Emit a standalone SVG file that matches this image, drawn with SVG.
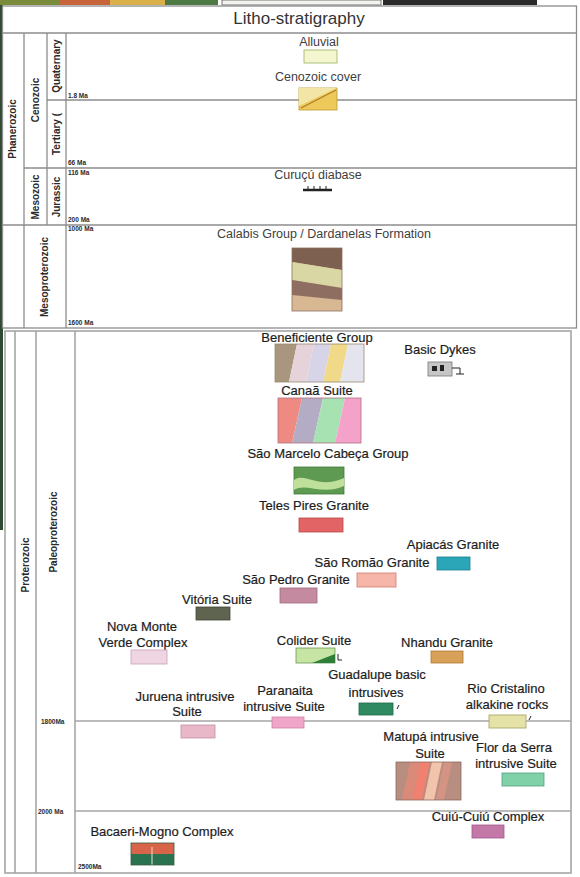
<svg xmlns="http://www.w3.org/2000/svg" width="580" height="877" viewBox="0 0 580 877">
  <defs>
    <style>
      .lbl { font-family: "Liberation Sans", Arial, sans-serif; font-size: 13px; fill: #1c1c1c; text-anchor: middle; stroke: #1c1c1c; stroke-width: 0.2; }
      .top { font-size: 12.5px; fill: #404040; stroke: none; }
      .title { font-family: "Liberation Sans", Arial, sans-serif; font-size: 17px; fill: #333; text-anchor: middle; }
      .era { font-family: "Liberation Sans", Arial, sans-serif; font-size: 10px; font-weight: bold; fill: #2a2a2a; text-anchor: middle; }
      .tick { font-family: "Liberation Sans", Arial, sans-serif; font-size: 6.5px; font-weight: bold; fill: #2a2a2a; }
      .grid { stroke: #8c8c8c; stroke-width: 1.3; fill: none; }
      .grid2 { stroke: #a6a6a6; stroke-width: 1.6; fill: none; }
      .unit { stroke-width: 0.8; }
      .mark { stroke: #222; stroke-width: 1; fill: none; }
    </style>
  </defs>

  <rect width="580" height="877" fill="#ffffff"/>

  <!-- strip of the neighbouring panel along the top edge -->
  <g id="top-strip">
    <rect x="0" y="0" width="60" height="5" fill="#7a8c3c"/>
    <rect x="60" y="0" width="50" height="5" fill="#c8643c"/>
    <rect x="110" y="0" width="55" height="5" fill="#d9b04a"/>
    <rect x="165" y="0" width="53" height="5" fill="#4d7a44"/>
    <rect x="222" y="0" width="159" height="5" fill="#f4f3ef" stroke="#555" stroke-width="0.8"/>
    <rect x="383" y="0" width="154" height="5" fill="#2a2a2a"/>
    <rect x="0" y="5" width="3" height="525" fill="#2f4a30"/>
  </g>

  <!-- upper panel: Phanerozoic and Mesoproterozoic -->
  <g id="upper-frame">
    <rect x="2.5" y="6" width="574" height="322" class="grid"/>
    <line x1="2.5" y1="33" x2="576.5" y2="33" class="grid"/>
    <line x1="24" y1="33" x2="24" y2="328" class="grid"/>
    <line x1="47" y1="33" x2="47" y2="225" class="grid"/>
    <line x1="66" y1="33" x2="66" y2="328" class="grid"/>
    <line x1="47" y1="100" x2="576.5" y2="100" class="grid"/>
    <line x1="24" y1="168" x2="576.5" y2="168" class="grid"/>
    <line x1="2.5" y1="225" x2="576.5" y2="225" class="grid"/>
    <text x="299" y="24" class="title">Litho-stratigraphy</text>

    <text class="era" transform="translate(16,129) rotate(-90)">Phanerozoic</text>
    <text class="era" transform="translate(39,100) rotate(-90)">Cenozoic</text>
    <text class="era" transform="translate(60,66) rotate(-90)">Quaternary</text>
    <text class="era" transform="translate(60,134) rotate(-90)">Tertiary (</text>
    <text class="era" transform="translate(39,197) rotate(-90)">Mesozoic</text>
    <text class="era" transform="translate(60,197) rotate(-90)">Jurassic</text>
    <text class="era" transform="translate(48,277) rotate(-90)">Mesoproterozoic</text>

    <text x="68" y="98" class="tick">1.8 Ma</text>
    <text x="68" y="165" class="tick">66 Ma</text>
    <text x="68" y="175" class="tick">116 Ma</text>
    <text x="68" y="222" class="tick">200 Ma</text>
    <text x="68" y="231" class="tick">1000 Ma</text>
    <text x="68" y="325" class="tick">1600 Ma</text>
  </g>

  <!-- lower panel: Proterozoic -->
  <g id="lower-frame">
    <rect x="5" y="331" width="566" height="542" class="grid2"/>
    <line x1="15" y1="331" x2="15" y2="873" class="grid2"/>
    <line x1="36" y1="331" x2="36" y2="873" class="grid2"/>
    <line x1="75" y1="331" x2="75" y2="873" class="grid2"/>
    <line x1="75" y1="721" x2="571" y2="721" class="grid2"/>
    <line x1="75" y1="811" x2="571" y2="811" class="grid2"/>
    <text class="era" transform="translate(29,565) rotate(-90)">Proterozoic</text>
    <text class="era" transform="translate(57,532) rotate(-90)">Paleoproterozoic</text>
    <text x="41" y="724" class="tick">1800Ma</text>
    <text x="38" y="814" class="tick">2000 Ma</text>
    <text x="78" y="869" class="tick">2500Ma</text>
  </g>

  <g id="connectors"/>

  <g id="alluvial">
    <text x="319" y="46" class="lbl top">Alluvial</text>
    <rect x="304" y="50" width="33" height="13" fill="#f3f6cf" stroke="#9cb25c" class="unit"/>
  </g>

  <g id="cenozoic-cover">
    <text x="318" y="81" class="lbl top">Cenozoic cover</text>
    <rect x="299" y="88" width="38" height="22" fill="#ecc95a" stroke="#c09a30" class="unit"/>
    <polygon points="299,88 337,88 299,106" fill="#f3e5a6"/>
    <line x1="301" y1="108" x2="336" y2="90" stroke="#b27a28" stroke-width="1.2"/>
  </g>

  <g id="curucu-diabase">
    <text x="318" y="179" class="lbl top">Curuçú diabase</text>
    <line x1="303" y1="190" x2="332" y2="190" stroke="#222" stroke-width="2.5"/>
    <path d="M308 186v4M314 186v4M320 186v4M326 186v4" class="mark"/>
  </g>

  <g id="calabis">
    <text x="324" y="238" class="lbl top">Calabis Group / Dardanelas Formation</text>
    <rect x="292" y="248" width="50" height="63" fill="#d8b793"/>
    <polygon points="292,248 342,248 342,270 292,262" fill="#7d6050"/>
    <polygon points="292,262 342,270 342,288 292,280" fill="#d9d7a3"/>
    <polygon points="292,280 342,288 342,300 292,295" fill="#8d6e60"/>
    <rect x="292" y="248" width="50" height="63" fill="none" stroke="#8a7060" class="unit"/>
  </g>

  <g id="beneficiente">
    <text x="317" y="342" class="lbl">Beneficiente Group</text>
    <polygon points="275,344 297,344 289,382 275,382" fill="#a8967e"/>
    <polygon points="297,344 314,344 306,382 289,382" fill="#e6d3d9"/>
    <polygon points="314,344 331,344 323,382 306,382" fill="#d8d4e8"/>
    <polygon points="331,344 348,344 340,382 323,382" fill="#f1d98a"/>
    <polygon points="348,344 364,344 364,382 340,382" fill="#e4e4ee"/>
    <rect x="275" y="344" width="89" height="38" fill="none" stroke="#9a8a70" class="unit"/>
  </g>

  <g id="basic-dykes">
    <text x="440" y="354" class="lbl">Basic Dykes</text>
    <rect x="428" y="362" width="24" height="14" fill="#c6c6c6" stroke="#777" class="unit"/>
    <rect x="432" y="366" width="5" height="5" fill="#222"/>
    <rect x="440" y="365" width="4" height="6" fill="#222"/>
    <path d="M452 368h8v6M456 374h8" class="mark"/>
  </g>

  <g id="canaa">
    <text x="317" y="395" class="lbl">Canaã Suite</text>
    <polygon points="278,398 302,398 292,443 278,443" fill="#ee8a82"/>
    <polygon points="302,398 323,398 313,443 292,443" fill="#b4acc4"/>
    <polygon points="323,398 345,398 335,443 313,443" fill="#a6e2b2"/>
    <polygon points="345,398 361,398 361,443 335,443" fill="#f4a2ca"/>
    <rect x="278" y="398" width="83" height="45" fill="none" stroke="#b07080" class="unit"/>
  </g>

  <g id="sao-marcelo">
    <text x="328" y="458" class="lbl">São Marcelo Cabeça Group</text>
    <rect x="294" y="467" width="50" height="27" fill="#5f9a52" stroke="#3f7a38" class="unit"/>
    <path d="M294 480 C306 472 318 490 344 478 L344 486 C322 496 306 482 294 490 Z" fill="#bfe09a"/>
  </g>

  <g id="teles-pires">
    <text x="314" y="510" class="lbl">Teles Pires Granite</text>
    <rect x="299" y="518" width="44" height="14" fill="#e26464" stroke="#b84848" class="unit"/>
  </g>

  <g id="apiacas">
    <text x="453" y="549" class="lbl">Apiacás Granite</text>
    <rect x="437" y="557" width="33" height="13" fill="#2aa6b8" stroke="#1a8090" class="unit"/>
  </g>

  <g id="sao-romao">
    <text x="372" y="567" class="lbl">São Romão Granite</text>
    <rect x="357" y="573" width="39" height="14" fill="#f6b6aa" stroke="#cf7c72" class="unit"/>
  </g>

  <g id="sao-pedro">
    <text x="296" y="584" class="lbl">São Pedro Granite</text>
    <rect x="280" y="588" width="37" height="15" fill="#c48aa0" stroke="#a06880" class="unit"/>
  </g>

  <g id="vitoria">
    <text x="217" y="604" class="lbl">Vitória Suite</text>
    <rect x="196" y="607" width="34" height="13" fill="#5f6450" stroke="#404535" class="unit"/>
  </g>

  <g id="nova-monte-verde">
    <text x="142" y="631" class="lbl">Nova Monte</text>
    <text x="143" y="647" class="lbl">Verde Complex</text>
    <rect x="131" y="650" width="36" height="14" fill="#efd4e2" stroke="#c8a0b8" class="unit"/>
  </g>

  <g id="colider">
    <text x="314" y="645" class="lbl">Colider Suite</text>
    <rect x="296" y="648" width="39" height="15" fill="#c6e4a4" stroke="#6a9a50" class="unit"/>
    <polygon points="312,663 335,654 335,663" fill="#2f7f3a"/>
    <path d="M338 654v6h4" class="mark"/>
  </g>

  <g id="nhandu">
    <text x="447" y="647" class="lbl">Nhandu Granite</text>
    <rect x="431" y="651" width="32" height="12" fill="#d9a05a" stroke="#b07830" class="unit"/>
  </g>

  <g id="guadalupe">
    <text x="377" y="679" class="lbl">Guadalupe basic</text>
    <text x="376" y="697" class="lbl">intrusives</text>
    <rect x="359" y="703" width="34" height="12" fill="#2f8a62" stroke="#1e6a48" class="unit"/>
    <path d="M397 709l2-4" class="mark"/>
  </g>

  <g id="paranaita">
    <text x="285" y="695" class="lbl">Paranaita</text>
    <text x="284" y="711" class="lbl">intrusive Suite</text>
    <rect x="272" y="717" width="32" height="11" fill="#f0a6c8" stroke="#d080a0" class="unit"/>
  </g>

  <g id="juruena">
    <text x="185" y="701" class="lbl">Juruena intrusive</text>
    <text x="187" y="716" class="lbl">Suite</text>
    <rect x="181" y="725" width="34" height="13" fill="#e8b8c8" stroke="#c090a8" class="unit"/>
  </g>

  <g id="rio-cristalino">
    <text x="506" y="693" class="lbl">Rio Cristalino</text>
    <text x="507" y="709" class="lbl">alkakine rocks</text>
    <rect x="489" y="715" width="37" height="13" fill="#e4e2a6" stroke="#a0a060" class="unit"/>
    <path d="M529 720l2-4" class="mark"/>
  </g>

  <g id="matupa">
    <text x="431" y="741" class="lbl">Matupá intrusive</text>
    <text x="430" y="758" class="lbl">Suite</text>
    <rect x="396" y="762" width="65" height="38" fill="#b88e80"/>
    <polygon points="410,762 420,762 412,800 402,800" fill="#d98a78"/>
    <polygon points="420,762 430,762 422,800 412,800" fill="#f08070"/>
    <polygon points="432,762 442,762 434,800 424,800" fill="#f3c4ac"/>
    <polygon points="444,762 452,762 444,800 436,800" fill="#d49484"/>
    <rect x="396" y="762" width="65" height="38" fill="none" stroke="#8a6a60" class="unit"/>
  </g>

  <g id="flor-da-serra">
    <text x="514" y="752" class="lbl">Flor da Serra</text>
    <text x="516" y="768" class="lbl">intrusive Suite</text>
    <rect x="502" y="773" width="42" height="13" fill="#80d0a8" stroke="#50a080" class="unit"/>
  </g>

  <g id="cuiu-cuiu">
    <text x="488" y="821" class="lbl">Cuiú-Cuiú Complex</text>
    <rect x="472" y="825" width="32" height="13" fill="#c478a8" stroke="#a05888" class="unit"/>
  </g>

  <g id="bacaeri-mogno">
    <text x="162" y="836" class="lbl">Bacaeri-Mogno Complex</text>
    <rect x="131" y="843" width="43" height="11" fill="#d8644a"/>
    <rect x="131" y="854" width="43" height="11" fill="#2b7250"/>
    <line x1="152" y1="847" x2="152" y2="865" stroke="#e8e0d0" stroke-width="1"/>
    <rect x="131" y="843" width="43" height="22" fill="none" stroke="#3a5a40" class="unit"/>
  </g>
</svg>
